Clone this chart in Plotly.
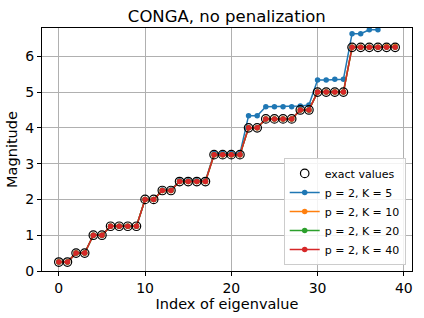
import plotly.graph_objects as go

index = list(range(40))
exact_values = [0.25, 0.25, 0.5, 0.5, 1.0, 1.0, 1.25, 1.25, 1.25, 1.25,
                2.0, 2.0, 2.25, 2.25, 2.5, 2.5, 2.5, 2.5, 3.25, 3.25,
                3.25, 3.25, 4.0, 4.0, 4.25, 4.25, 4.25, 4.25, 4.5, 4.5,
                5.0, 5.0, 5.0, 5.0, 6.25, 6.25, 6.25, 6.25, 6.25, 6.25]
k5_values = [0.25, 0.25, 0.5, 0.5, 1.0, 1.0, 1.25, 1.25, 1.25, 1.25,
             2.0, 2.0, 2.26, 2.26, 2.52, 2.52, 2.52, 2.52, 3.28, 3.28,
             3.28, 3.28, 4.34, 4.34, 4.59, 4.59, 4.59, 4.59, 4.61, 4.64,
             5.34, 5.34, 5.36, 5.36, 6.63, 6.63, 6.74, 6.74, None, None]
k10_values = [0.25, 0.25, 0.5, 0.5, 1.0, 1.0, 1.25, 1.25, 1.25, 1.25,
              2.0, 2.0, 2.25, 2.25, 2.5, 2.5, 2.5, 2.5, 3.25, 3.25,
              3.25, 3.25, 4.0, 4.0, 4.25, 4.25, 4.25, 4.25, 4.5, 4.5,
              5.0, 5.0, 5.0, 5.0, 6.25, 6.25, 6.25, 6.25, 6.27, 6.27]
k20_values = list(exact_values)
k40_values = list(exact_values)

series = [
    ("p = 2, K = 5", k5_values, "#1f77b4"),
    ("p = 2, K = 10", k10_values, "#ff7f0e"),
    ("p = 2, K = 20", k20_values, "#2ca02c"),
    ("p = 2, K = 40", k40_values, "#d62728"),
]

font = "DejaVu Sans, Verdana, sans-serif"
fig = go.Figure()

for i, (name, vals, col) in enumerate(series):
    fig.add_trace(go.Scatter(
        x=index, y=vals, mode="lines+markers", name=name,
        line=dict(color=col, width=1.5),
        marker=dict(size=5.5, color=col),
        legendrank=2 + i,
    ))
# exact values drawn on top, listed first in legend
fig.add_trace(go.Scatter(
    x=index, y=exact_values, mode="markers", name="exact values",
    marker=dict(symbol="circle-open", size=8.5, color="black",
                line=dict(width=1.2, color="black")),
    legendrank=1,
))

fig.update_layout(
    width=424, height=318,
    margin=dict(l=42, r=12, t=28, b=47),
    paper_bgcolor="white", plot_bgcolor="white",
    font=dict(family=font, size=14, color="black"),
    title=dict(text="CONGA, no penalization", x=0.535, xanchor="center",
               y=0.967, yanchor="top", font=dict(size=16.5, family=font)),
    showlegend=True,
    legend=dict(x=0.983, y=0.025, xanchor="right", yanchor="bottom",
                bgcolor="rgba(255,255,255,0.85)", bordercolor="#cccccc",
                borderwidth=1, font=dict(size=11, family=font),
                traceorder="normal"),
)
fig.update_xaxes(
    range=[-1.95, 40.95], tickvals=[0, 10, 20, 30, 40], automargin=False,
    showgrid=True, gridcolor="#b0b0b0", gridwidth=0.8,
    showline=True, linecolor="black", linewidth=1, mirror=True,
    ticks="outside", ticklen=4, tickcolor="black", zeroline=False,
    title=dict(text="Index of eigenvalue", standoff=2, font=dict(size=14.5)),
)
fig.update_yaxes(
    range=[0, 6.79], tickvals=[0, 1, 2, 3, 4, 5, 6], automargin=False,
    showgrid=True, gridcolor="#b0b0b0", gridwidth=0.8,
    showline=True, linecolor="black", linewidth=1, mirror=True,
    ticks="outside", ticklen=4, tickcolor="black", zeroline=False,
    title=dict(text="Magnitude", standoff=4, font=dict(size=14.5)),
)

fig.write_html(
    "out.html",
    config={"displayModeBar": False},
    post_script="document.body.style.margin='0';document.body.style.overflow='hidden';",
)
